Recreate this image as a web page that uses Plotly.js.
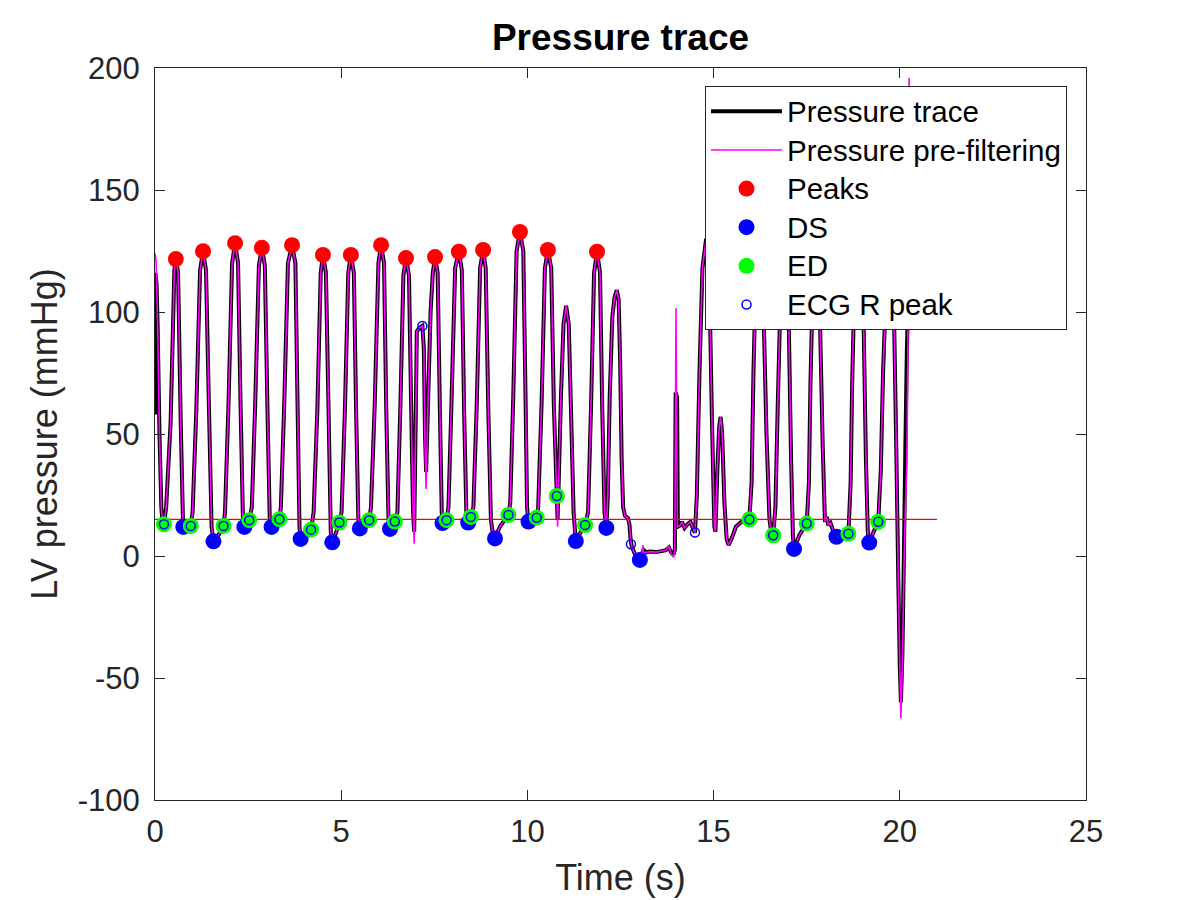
<!DOCTYPE html>
<html>
<head>
<meta charset="utf-8">
<script src="https://cdn.plot.ly/plotly-3.0.1.min.js"></script>
<style>
html,body{margin:0;padding:0;background:#ffffff;}
#chart{width:1200px;height:900px;}
</style>
</head>
<body>
<div id="chart"></div>
<script>
// ---------- Filtered pressure trace (black) ----------
const traceTime = [
0.00,0.01,0.04,0.07,0.12,0.17,0.20,0.24,
0.30,0.42,0.52,0.56,0.62,0.69,0.75,0.76,0.86,0.96,
1.01,1.11,1.21,1.29,1.37,1.45,1.52,1.57,1.70,1.84,
1.88,1.97,2.07,2.15,2.23,2.30,2.36,2.40,2.46,2.53,
2.60,2.69,2.79,2.87,2.95,3.02,3.08,3.13,3.24,3.34,
3.38,3.47,3.57,3.68,3.77,3.83,3.88,3.91,4.05,4.19,
4.26,4.36,4.45,4.51,4.59,4.66,4.72,4.76,4.86,4.95,
5.01,5.10,5.19,5.26,5.34,5.40,5.46,5.50,5.62,5.75,
5.80,5.90,6.00,6.07,6.15,6.21,6.27,6.31,6.38,6.44,
6.51,6.59,6.67,6.74,6.82,6.88,6.93,6.96,7.00,7.03,7.10,7.18,7.22,7.25,7.28,7.33,7.40,7.46,7.52,7.59,7.65,7.70,7.72,7.78,7.83,
7.88,7.96,8.06,8.16,8.24,8.30,8.36,8.41,8.45,8.48,
8.55,8.64,8.73,8.81,8.88,8.95,9.02,9.08,9.13,9.22,9.28,9.38,9.49,
9.54,9.62,9.71,9.80,9.89,9.95,9.99,10.03,10.14,10.25,
10.29,10.38,10.47,10.55,10.64,10.71,10.79,10.81,
10.84,10.90,10.97,11.04,11.11,11.17,11.24,11.30,11.42,11.55,
11.63,11.71,11.79,11.87,11.95,12.01,12.07,12.12,
12.16,12.21,12.28,12.34,12.40,12.45,12.49,12.53,12.57,12.62,12.70,12.74,12.77,12.80,12.88,12.95,13.02,
13.08,13.12,13.18,13.30,13.45,13.60,13.72,13.80,13.86,13.92,13.96,13.98,14.02,14.04,
14.10,14.15,14.22,14.30,14.38,14.44,14.50,
14.55,14.62,14.70,14.80,14.88,14.95,15.02,15.05,
15.10,15.15,15.19,15.23,15.29,15.35,15.40,15.48,15.60,15.75,15.96,
16.02,16.07,16.11,16.19,16.27,16.35,16.42,16.50,16.55,16.60,
16.66,16.72,16.78,16.88,16.96,17.02,17.08,17.13,17.16,17.30,17.50,
17.56,17.60,17.64,17.73,17.80,17.86,17.93,17.99,18.04,18.08,18.14,18.22,18.30,18.45,18.62,
18.68,18.72,18.76,18.86,18.95,19.03,19.09,19.14,19.18,19.30,19.42,
19.49,19.55,19.60,19.70,19.78,19.85,19.91,19.96,20.00,20.03,20.07,20.11,20.15,20.19,20.24,20.32,
20.40,20.44,20.48,20.52,20.65,20.80,20.88,20.91,20.95,21.00
];
const tracePressure = [
58,116,112,95,50,20,14,13.0,
20,55,117,121.7,116,55,15,11.9,11.6,12.3,
18,60,117,124.9,117,60,12,6.0,8.5,12.3,
18,60,120,128.2,120,60,16,11.9,12.8,14.7,
20,62,119,126.3,119,60,16,11.9,13.3,15.1,
20,62,120,127.4,120,60,12,7.0,8.8,10.8,
18,60,116,123.4,116,60,10,5.6,9.5,13.7,
18,60,116,123.4,116,60,15,11.3,12.8,14.7,
20,62,120,127.4,120,60,15,11.1,12.3,14.1,
18,62,115,122.1,115,60,18,10,55,92,93.5,94.3,85,50,34.5,62,100,116,122.5,116,60,18,13.5,13.8,14.7,
20,62,118,124.7,117,60,18,13.7,14.8,16.0,
20,62,118,125.4,118,60,15,8,7.2,10.5,12.5,14.5,16.8,
22,65,125,132.8,125,65,20,14.1,14.6,15.7,
20,62,118,125.4,118,62,24.6,15,
30,65,95,102.5,95,60,18,6.1,9.5,12.7,
18,62,116,124.7,116,60,18,11.5,
25,65,98,106,109,105,80,40,20,16.5,15.5,13,7,4,1,-0.5,-1.6,
1,2.5,1.5,1.8,1.6,2.0,2.4,3.5,1.5,0.5,2.5,67,65,12,
12.5,14,11.5,13,14,11.5,9.6,
25,75,118,130,118,60,12,10,
35,53,57,50,22,7,4.5,7,12,14,15.0,
30,75,100,128,118,95,50,15,9.5,8.5,
20,60,96,128,118,94,40,8,2.9,8.5,13.3,
30,70,96,128,118,94,45,14,16,12.5,13.5,10,7.9,8.6,9.1,
30,70,96,128,120,94,40,10,5.5,10,14.0,
35,75,96,128,118,94,40,-10,-45,-60,-40,0,45,85,112,108,
93,98,94,99,98,97,98,93,98,98
];

// ---------- Pressure before filtering (magenta) ----------
const rawTime = [
0.00,0.03,0.07,0.12,0.17,0.20,0.24,
0.30,0.42,0.52,0.56,0.62,0.69,0.75,0.76,0.86,0.96,
1.01,1.11,1.21,1.29,1.37,1.45,1.52,1.57,1.70,1.84,
1.88,1.97,2.07,2.15,2.23,2.30,2.36,2.40,2.46,2.53,
2.60,2.69,2.79,2.87,2.95,3.02,3.08,3.13,3.24,3.34,
3.38,3.47,3.57,3.68,3.77,3.83,3.88,3.91,4.05,4.19,
4.26,4.36,4.45,4.51,4.59,4.66,4.72,4.76,4.86,4.95,
5.01,5.10,5.19,5.26,5.34,5.40,5.46,5.50,5.62,5.75,
5.80,5.90,6.00,6.07,6.15,6.21,6.27,6.31,6.38,6.44,
6.51,6.59,6.67,6.74,6.82,6.88,6.93,6.96,7.00,7.03,7.10,7.18,7.22,7.25,7.28,7.33,7.40,7.46,7.52,7.59,7.65,7.70,7.72,7.78,7.83,
7.88,7.96,8.06,8.16,8.24,8.30,8.36,8.41,8.45,8.48,
8.55,8.64,8.73,8.81,8.88,8.95,9.02,9.08,9.13,9.22,9.28,9.38,9.49,
9.54,9.62,9.71,9.80,9.89,9.95,9.99,10.03,10.14,10.25,
10.29,10.38,10.47,10.55,10.64,10.71,10.79,10.81,
10.84,10.90,10.97,11.04,11.11,11.17,11.24,11.30,11.42,11.55,
11.63,11.71,11.79,11.87,11.95,12.01,12.07,12.12,
12.16,12.21,12.28,12.34,12.40,12.45,12.49,12.53,12.57,12.62,12.70,12.74,12.77,12.80,12.88,12.95,13.02,
13.08,13.10,13.12,13.18,13.30,13.45,13.60,13.72,13.80,13.86,13.92,13.96,13.99,14.01,14.03,
14.10,14.15,14.22,14.30,14.38,14.44,14.50,
14.55,14.62,14.70,14.80,14.88,14.95,15.02,15.05,
15.10,15.15,15.19,15.23,15.29,15.35,15.40,15.48,15.60,15.75,15.96,
16.02,16.07,16.11,16.19,16.27,16.35,16.42,16.50,16.55,16.60,
16.66,16.72,16.78,16.88,16.96,17.02,17.08,17.13,17.16,17.30,17.50,
17.56,17.60,17.64,17.73,17.80,17.86,17.93,17.99,18.04,18.08,18.14,18.22,18.30,18.45,18.62,
18.68,18.72,18.76,18.86,18.95,19.03,19.09,19.14,19.18,19.30,19.42,
19.49,19.55,19.60,19.70,19.78,19.85,19.91,19.96,20.00,20.03,20.07,20.11,20.15,20.19,20.21,20.24,20.25,20.27,20.32,
20.40,20.44,20.48,20.52,20.65,20.80,20.88,20.91,20.95,21.00
];
const rawPressure = [
124,121,95,50,20,14,13.0,
20,55,117,121.7,116,55,15,11.9,11.6,12.3,
18,60,117,124.9,117,60,12,6.0,8.5,12.3,
18,60,120,128.2,120,60,16,11.9,12.8,14.7,
20,62,119,126.3,119,60,16,11.9,13.3,15.1,
20,62,120,127.4,120,60,12,7.0,8.8,10.8,
18,60,116,123.4,116,60,10,5.6,9.5,13.7,
18,60,116,123.4,116,60,15,11.3,12.8,14.7,
20,62,120,127.4,120,60,15,11.1,12.3,14.1,
18,62,115,122.1,115,60,18,5,55,92,93.5,94.3,85,45,27.5,62,100,116,122.5,116,60,18,13.5,13.8,14.7,
20,62,118,124.7,117,60,18,13.7,14.8,16.0,
20,62,118,125.4,118,60,15,8,7.2,10.5,12.5,14.5,16.8,
22,65,125,132.8,125,65,20,14.1,14.6,15.7,
20,62,118,125.4,118,62,24.6,12,
30,65,95,102.5,95,60,18,6.1,9.5,12.7,
18,62,116,124.7,116,60,18,11.5,
25,65,98,106,109,105,80,40,20,16.5,15.5,13,7,4,1,-0.5,-1.6,
1,4.5,1,1.5,1.8,1.6,2.0,2.4,4,1.0,-0.5,2.5,101.5,50,12,
12.5,14,11.5,13,14,11.5,9.6,
25,75,118,130,118,60,12,10,
35,53,57,50,22,7,4.5,7,12,14,15.0,
30,75,100,128,118,95,50,15,9.5,8.5,
20,60,96,128,118,94,40,8,2.9,8.5,13.3,
30,70,96,128,118,94,45,14,16,12.5,13.5,10,7.9,8.6,9.1,
30,70,96,128,120,94,40,10,5.5,10,14.0,
35,75,96,128,118,94,40,-10,-45,-66.5,-45,-5,20,38,70,150,196,115,108,
93,98,94,99,98,97,98,93,98,98
];

// ---------- Detected points ----------
const peakTime = [0.56,1.29,2.15,2.87,3.68,4.51,5.26,6.07,6.74,7.52,8.16,8.81,9.80,10.55,11.87];
const peakPressure = [121.7,124.9,128.2,126.3,127.4,123.4,123.4,127.4,122.1,122.5,124.7,125.4,132.8,125.4,124.7];

const dsTime = [0.76,1.57,2.40,3.13,3.91,4.76,5.50,6.31,7.72,8.41,9.13,10.03,11.30,12.12,13.02,17.16,18.30,19.18];
const dsPressure = [11.9,6.0,11.9,11.9,7.0,5.6,11.3,11.1,13.5,13.7,7.2,14.1,6.1,11.5,-1.6,2.9,7.9,5.5];

const edTime = [0.24,0.96,1.84,2.53,3.34,4.19,4.95,5.75,6.44,7.83,8.48,9.49,10.25,10.79,11.55,15.96,16.60,17.50,18.62,19.42];
const edPressure = [13.0,12.3,12.3,14.7,15.1,10.8,13.7,14.7,14.1,14.7,16.0,16.8,15.7,24.6,12.7,15.0,8.5,13.3,9.1,14.0];

const ecgTime = [0.24,0.96,1.84,2.53,3.34,4.19,4.95,5.75,6.44,7.18,7.83,8.48,9.49,10.25,10.79,11.55,12.78,14.50,15.96,16.60,17.50,18.62,19.42];
const ecgPressure = [13.0,12.3,12.3,14.7,15.1,10.8,13.7,14.7,14.1,94.3,14.7,16.0,16.8,15.7,24.6,12.7,4.8,9.6,15.0,8.5,13.3,9.1,14.0];

const thresholdTime = [0, 21];
const thresholdPressure = [15, 15];

const xTickValues = [0, 5, 10, 15, 20, 25];
const xTickLabels = ['0', '5', '10', '15', '20', '25'];
const yTickValues = [-100, -50, 0, 50, 100, 150, 200];
const yTickLabels = ['-100', '-50', '0', '50', '100', '150', '200'];

const seriesNames = ['Pressure trace', 'Pressure pre-filtering', 'Peaks', 'DS', 'ED', 'ECG R peak'];

// ---------- Plot ----------
const FONT = 'Liberation Sans, Arial, Helvetica, sans-serif';
const AXIS_COLOR = '#262626';
const legendName = s => '<span style="font-size:29.5px">' + s + '</span>';

const traces = [
  {x: traceTime, y: tracePressure, type: 'scatter', mode: 'lines', name: legendName(seriesNames[0]),
   line: {color: '#000000', width: 4, simplify: false}, hoverinfo: 'skip'},
  {x: rawTime, y: rawPressure, type: 'scatter', mode: 'lines', name: legendName(seriesNames[1]),
   line: {color: '#FF00FF', width: 1.6, simplify: false}, hoverinfo: 'skip'},
  {x: thresholdTime, y: thresholdPressure, type: 'scatter', mode: 'lines', showlegend: false,
   line: {color: '#FF0000', width: 1.3}, hoverinfo: 'skip'},
  {x: peakTime, y: peakPressure, type: 'scatter', mode: 'markers', name: legendName(seriesNames[2]),
   marker: {color: '#FF0000', size: 16, symbol: 'circle'}, hoverinfo: 'skip'},
  {x: dsTime, y: dsPressure, type: 'scatter', mode: 'markers', name: legendName(seriesNames[3]),
   marker: {color: '#0000FF', size: 16, symbol: 'circle'}, hoverinfo: 'skip'},
  {x: edTime, y: edPressure, type: 'scatter', mode: 'markers', name: legendName(seriesNames[4]),
   marker: {color: '#00FF00', size: 16, symbol: 'circle'}, hoverinfo: 'skip'},
  {x: ecgTime, y: ecgPressure, type: 'scatter', mode: 'markers', name: legendName(seriesNames[5]),
   marker: {color: '#0000FF', size: 9, symbol: 'circle-open', line: {color: '#0000FF', width: 1.5}}, hoverinfo: 'skip'}
];

const axisCommon = {
  showgrid: false, zeroline: false,
  showline: true, linecolor: AXIS_COLOR, linewidth: 1, mirror: 'ticks',
  ticks: 'inside', ticklen: 10, tickwidth: 1, tickcolor: AXIS_COLOR,
  tickfont: {family: FONT, size: 31, color: AXIS_COLOR},
  tickmode: 'array'
};

const layout = {
  width: 1200, height: 900,
  margin: {l: 155, r: 114, t: 68, b: 100, pad: 0},
  paper_bgcolor: '#ffffff', plot_bgcolor: '#ffffff',
  font: {family: FONT, color: AXIS_COLOR},
  title: {text: '<b>Pressure trace</b>', font: {family: FONT, size: 37, color: '#000000'},
          xref: 'paper', x: 0.5, xanchor: 'center', yref: 'container', y: 0.959, yanchor: 'middle'},
  xaxis: Object.assign({}, axisCommon, {
    range: [0, 25], tickvals: xTickValues, ticktext: xTickLabels,
    ticklabelstandoff: 4,
    title: {text: 'Time (s)', font: {family: FONT, size: 36, color: AXIS_COLOR}, standoff: 16}
  }),
  yaxis: Object.assign({}, axisCommon, {
    range: [-100, 200], tickvals: yTickValues, ticktext: yTickLabels,
    ticklabelstandoff: 8,
    title: {text: 'LV pressure (mmHg)', font: {family: FONT, size: 36, color: AXIS_COLOR}, standoff: 9}
  }),
  legend: {
    x: 0.9796, xanchor: 'right', y: 0.9754, yanchor: 'top',
    bgcolor: '#ffffff', bordercolor: AXIS_COLOR, borderwidth: 1,
    font: {family: FONT, size: 27.4, color: '#000000'},
    itemwidth: 71, tracegroupgap: 0
  },
  showlegend: true,
  hovermode: false
};

Plotly.newPlot('chart', traces, layout, {staticPlot: true, displayModeBar: false});
</script>
</body>
</html>
